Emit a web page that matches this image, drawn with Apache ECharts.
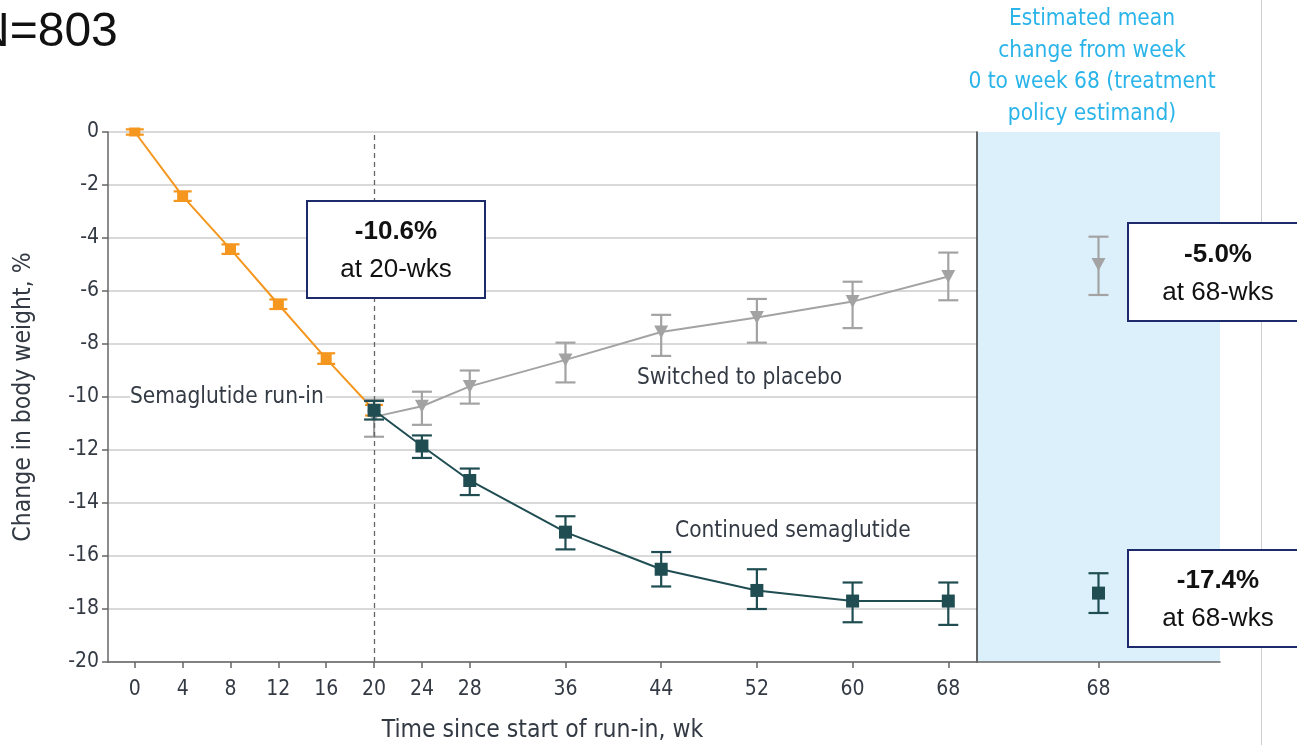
<!DOCTYPE html>
<html><head><meta charset="utf-8">
<script src="https://cdn.jsdelivr.net/npm/echarts@6/dist/echarts.min.js"></script>
<style>html,body{margin:0;padding:0;background:#fff}#c{width:1297px;height:745px}</style>
</head><body><div id="c"></div>
<script>
// ---- data ----
var xTickWeeks = [0, 4, 8, 12, 16, 20, 24, 28, 36, 44, 52, 60, 68];
var yTicks = [0, -2, -4, -6, -8, -10, -12, -14, -16, -18, -20];

var runinWeeks = [0, 4, 8, 12, 16, 20];
var runinMean  = [0, -2.42, -4.42, -6.5, -8.55, -10.5];
var runinLow   = [-0.1, -2.6, -4.6, -6.68, -8.75, -10.7];
var runinHigh  = [0.1, -2.24, -4.24, -6.32, -8.35, -10.3];

var followWeeks = [20, 24, 28, 36, 44, 52, 60, 68];
var contMean = [-10.5, -11.85, -13.15, -15.1, -16.5, -17.3, -17.7, -17.7];
var contLow  = [-10.85, -12.3, -13.7, -15.75, -17.15, -18.0, -18.5, -18.6];
var contHigh = [-10.15, -11.45, -12.7, -14.5, -15.85, -16.5, -17.0, -17.0];

var placMean = [-10.75, -10.35, -9.6, -8.6, -7.55, -7.0, -6.4, -5.45];
var placLow  = [-11.5, -11.05, -10.25, -9.45, -8.45, -7.95, -7.4, -6.35];
var placHigh = [-10.1, -9.8, -9.0, -7.95, -6.9, -6.3, -5.65, -4.55];

var estCategory = ['68'];
var estPlac = {mean: -5.0, low: -6.15, high: -3.95};
var estCont = {mean: -17.4, low: -18.15, high: -16.65};

var panelTitle = ['Estimated mean', 'change from week', '0 to week 68 (treatment', 'policy estimand)'];

// ---- styling ----
var ORANGE = '#f5961e', TEAL = '#1f4d52', GRAY = '#a3a3a3';
var FONT = "'DejaVu Sans Condensed', 'Noto Sans', sans-serif";
var TXT = '#333a44';

function pairs(xs, ys) { return xs.map(function (x, i) { return [x, ys[i]]; }); }
function triples(xs, lo, hi) { return xs.map(function (x, i) { return [x, lo[i], hi[i]]; }); }

function errRender(color, capHalf) {
  return function (params, api) {
    var x = api.value(0);
    var p1 = api.coord([x, api.value(1)]);
    var p2 = api.coord([x, api.value(2)]);
    var st = {stroke: color, lineWidth: 2.2};
    return {type: 'group', children: [
      {type: 'line', shape: {x1: p1[0], y1: p1[1], x2: p2[0], y2: p2[1]}, style: st},
      {type: 'line', shape: {x1: p1[0] - capHalf, y1: p1[1], x2: p1[0] + capHalf, y2: p1[1]}, style: st},
      {type: 'line', shape: {x1: p2[0] - capHalf, y1: p2[1], x2: p2[0] + capHalf, y2: p2[1]}, style: st}
    ]};
  };
}

var chart = echarts.init(document.getElementById('c'), null, {renderer: 'canvas'});

var yAxisCommon = {type: 'value', min: -20, max: 0, interval: 2};

function annBox(left, top, w, h, l1, l2) {
  return [
    {type: 'rect', z: 100, shape: {x: left, y: top, width: w, height: h}, style: {fill: '#fff', stroke: '#1d2a6b', lineWidth: 2}},
    {type: 'text', z: 101, x: left + w / 2, y: top + h * 0.32, style: {text: l1, align: 'center', verticalAlign: 'middle', font: 'bold 26px "Liberation Sans", Arial, sans-serif', fill: '#111'}},
    {type: 'text', z: 101, x: left + w / 2, y: top + h * 0.71, style: {text: l2, align: 'center', verticalAlign: 'middle', font: '26px "Liberation Sans", Arial, sans-serif', fill: '#111'}}
  ];
}

var graphics = [
  {type: 'text', x: -25, y: 33, style: {text: 'N=803', verticalAlign: 'middle', font: '48px "Liberation Sans", Arial, sans-serif', fill: '#111'}},
  {type: 'line', shape: {x1: 1261.5, y1: 0, x2: 1261.5, y2: 745}, style: {stroke: '#cfcfcf', lineWidth: 1}, z: 1},
  {type: 'text', z: 50, x: 130, y: 397, style: {text: 'Semaglutide run-in', verticalAlign: 'middle', font: '22.5px ' + FONT, fill: TXT, backgroundColor: '#fff', padding: [0, 2, 0, 0]}},
  {type: 'text', z: 50, x: 637, y: 378, style: {text: 'Switched to placebo', verticalAlign: 'middle', font: '22.5px ' + FONT, fill: TXT}},
  {type: 'text', z: 50, x: 675, y: 531, style: {text: 'Continued semaglutide', verticalAlign: 'middle', font: '22.5px ' + FONT, fill: TXT}}
].concat(
  annBox(307, 201, 178, 97, '-10.6%', 'at 20-wks'),
  annBox(1128, 223, 180, 98, '-5.0%', 'at 68-wks'),
  annBox(1128, 550, 180, 97, '-17.4%', 'at 68-wks')
);
panelTitle.forEach(function (t, i) {
  graphics.push({type: 'text', x: 1092, y: 19 + i * 31.8, style: {text: t, align: 'center', verticalAlign: 'middle', font: '22.5px ' + FONT, fill: '#2ab4e9'}});
});

chart.setOption({
  animation: false,
  grid: [
    {left: 108, right: 320, top: 132, bottom: 83, outerBoundsMode: 'none', containLabel: false},
    {left: 977, right: 77, top: 132, bottom: 83, outerBoundsMode: 'none', containLabel: false, show: true, backgroundColor: '#dcf0fb', borderWidth: 0}
  ],
  xAxis: [
    {
      type: 'value', gridIndex: 0, min: -2.24, max: 70.4,
      name: 'Time since start of run-in, wk', nameLocation: 'middle', nameGap: 56,
      nameTextStyle: {fontFamily: FONT, fontSize: 24.5, color: TXT},
      axisLine: {show: true, onZero: false, lineStyle: {color: '#666', width: 1.5}},
      axisTick: {show: true, length: 6, lineStyle: {color: '#666', width: 1.5}, customValues: xTickWeeks},
      axisLabel: {customValues: xTickWeeks, fontFamily: FONT, fontSize: 21, color: TXT, margin: 17},
      splitLine: {show: false}
    },
    {
      type: 'category', gridIndex: 1, data: estCategory,
      axisLine: {show: true, onZero: false, lineStyle: {color: '#666', width: 1.5}},
      axisTick: {show: true, alignWithLabel: true, length: 6, lineStyle: {color: '#666', width: 1.5}},
      axisLabel: {fontFamily: FONT, fontSize: 21, color: TXT, margin: 17},
      splitLine: {show: false}
    }
  ],
  yAxis: [
    Object.assign({}, yAxisCommon, {
      gridIndex: 0,
      name: 'Change in body weight, %', nameLocation: 'middle', nameGap: 72, nameRotate: 90,
      nameTextStyle: {fontFamily: FONT, fontSize: 24.5, color: TXT},
      axisLine: {show: true, onZero: false, lineStyle: {color: '#666', width: 1.5}},
      axisTick: {show: true, length: 6, lineStyle: {color: '#666', width: 1.5}},
      axisLabel: {fontFamily: FONT, fontSize: 21, color: TXT, margin: 9},
      splitLine: {show: true, lineStyle: {color: '#d9d9d9', width: 2}}
    }),
    Object.assign({}, yAxisCommon, {
      gridIndex: 1,
      axisLine: {show: true, onZero: false, lineStyle: {color: '#333', width: 1.5}},
      axisTick: {show: false}, axisLabel: {show: false}, splitLine: {show: false}
    })
  ],
  graphic: graphics,
  series: [
    {
      type: 'line', name: 'run-in', xAxisIndex: 0, yAxisIndex: 0, z: 3,
      data: pairs(runinWeeks, runinMean), symbol: 'rect', symbolSize: [11, 9],
      lineStyle: {color: ORANGE, width: 2}, itemStyle: {color: ORANGE},
      markLine: {
        silent: true, symbol: 'none', label: {show: false},
        lineStyle: {color: '#666', type: [5, 4], width: 1.3},
        data: [{xAxis: 20}]
      }
    },
    {type: 'custom', xAxisIndex: 0, yAxisIndex: 0, z: 3, renderItem: errRender(ORANGE, 9),
      data: triples(runinWeeks, runinLow, runinHigh)},
    {
      type: 'line', name: 'placebo', xAxisIndex: 0, yAxisIndex: 0, z: 4,
      data: pairs(followWeeks, placMean), symbol: 'triangle', symbolRotate: 180, symbolSize: [14, 13],
      lineStyle: {color: GRAY, width: 2}, itemStyle: {color: GRAY}
    },
    {type: 'custom', xAxisIndex: 0, yAxisIndex: 0, z: 4, renderItem: errRender(GRAY, 10),
      data: triples(followWeeks, placLow, placHigh)},
    {
      type: 'line', name: 'continued', xAxisIndex: 0, yAxisIndex: 0, z: 5,
      data: pairs(followWeeks, contMean), symbol: 'rect', symbolSize: 13,
      lineStyle: {color: TEAL, width: 2}, itemStyle: {color: TEAL}
    },
    {type: 'custom', xAxisIndex: 0, yAxisIndex: 0, z: 5, renderItem: errRender(TEAL, 10),
      data: triples(followWeeks, contLow, contHigh)},
    {
      type: 'scatter', xAxisIndex: 1, yAxisIndex: 1, z: 4,
      data: [[0, estPlac.mean]], symbol: 'triangle', symbolRotate: 180, symbolSize: [14, 13],
      itemStyle: {color: GRAY, opacity: 1}
    },
    {type: 'custom', xAxisIndex: 1, yAxisIndex: 1, z: 4, renderItem: errRender(GRAY, 10),
      data: [[0, estPlac.low, estPlac.high]]},
    {
      type: 'scatter', xAxisIndex: 1, yAxisIndex: 1, z: 5,
      data: [[0, estCont.mean]], symbol: 'rect', symbolSize: 13,
      itemStyle: {color: TEAL, opacity: 1}
    },
    {type: 'custom', xAxisIndex: 1, yAxisIndex: 1, z: 5, renderItem: errRender(TEAL, 10),
      data: [[0, estCont.low, estCont.high]]}
  ]
});
</script>
</body></html>
